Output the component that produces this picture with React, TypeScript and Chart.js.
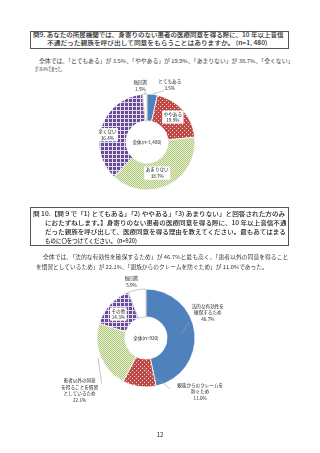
import React, { useEffect, useRef } from "react";
import { Chart, registerables } from "chart.js";
Chart.register(...registerables);

const q9Categories = ["とてもある", "ややある", "あまりない", "全くない", "無回答"];
const q9Values = [3.5, 19.9, 38.7, 36.4, 1.5];
const q9Center = "全体(n=1,480)";

const q10Categories = [
  "法的な有効性を\n確保するため",
  "親族からのクレームを\n防ぐため",
  "患者以外の同意\nを得ることを慣習\nとしているため",
  "その他",
  "無回答",
];
const q10Values = [46.7, 11.0, 22.1, 14.3, 5.9];
const q10Center = "全体(n=920)";

const box1Lines = [
  "問9. あなたの所属機関では、身寄りのない患者の医療同意を得る際に、10 年以上音信",
  "不通だった親族を呼び出して同意をもらうことはありますか。 (n=1, 480)",
];
const body1Lines = [
  "全体では、「とてもある」が 3.5%、「ややある」が 19.9%、「あまりない」が 38.7%、「全くない」",
  "が 36.4%であった。",
];
const box2Lines = [
  "問 10.【問９で「1) とてもある」「2) ややある」「3) あまりない」と回答された方のみ",
  "におたずねします。】身寄りのない患者の医療同意を得る際に、10 年以上音信不通",
  "だった親族を呼び出して、医療同意を得る理由を教えてください。最もあてはまる",
  "ものに〇をつけてください。 (n=920)",
];
const body2Lines = [
  "全体では、「法的な有効性を確保するため」が 46.7%と最も高く、「患者以外の同意を得ること",
  "を慣習としているため」が 22.1%、「親族からのクレームを防ぐため」が 11.0%であった。",
];
const pageNumber = "12";

const JP = '"Noto Sans CJK JP", "Noto Sans", sans-serif';

function makePattern(kind: string): CanvasPattern | string {
  const c = document.createElement("canvas");
  const s = kind === "green" ? 2 : 4;
  c.width = s;
  c.height = s;
  const g = c.getContext("2d")!;
  if (kind === "red") {
    g.fillStyle = "#BE4B48";
    g.fillRect(0, 0, s, s);
    g.fillStyle = "#F2D2D1";
    g.fillRect(0, 0, 1, 1);
    g.fillRect(2, 2, 1, 1);
  } else if (kind === "green") {
    g.fillStyle = "#E8F0D6";
    g.fillRect(0, 0, s, s);
    g.fillStyle = "#AFC97C";
    g.fillRect(0, 0, 1, 1);
    g.fillRect(1, 1, 1, 1);
  } else if (kind === "purple") {
    g.fillStyle = "#6A4B98";
    g.fillRect(0, 0, s, s);
    g.fillStyle = "#E4DCEE";
    g.fillRect(0, 0, s, 1);
    g.fillRect(0, 0, 1, s);
  }
  return g.createPattern(c, "repeat") || "#888";
}

type LabelLayout = {
  dx: number;
  dy: number;
  box?: boolean;
  leader?: { fx: number; fy: number; r: number };
};

function makeLabelPlugin(layout: LabelLayout[], center: string, fontSize: number, lineH: number) {
  return {
    id: "sliceLabels",
    afterDatasetsDraw(chart: any) {
      const ctx = chart.ctx as CanvasRenderingContext2D;
      const meta = chart.getDatasetMeta(0);
      const labels = chart.data.labels as string[];
      const values = chart.data.datasets[0].data as number[];
      ctx.save();
      ctx.font = `${fontSize}px ${JP}`;
      ctx.textAlign = "center";
      ctx.textBaseline = "middle";
      meta.data.forEach((arc: any, i: number) => {
        const L = layout[i];
        const p = arc.tooltipPosition(true);
        const cx = p.x + L.dx;
        const cy = p.y + L.dy;
        const lines = String(labels[i]).split("\n").concat([values[i].toFixed(1) + "%"]);
        const h = lines.length * lineH;
        if (L.leader) {
          const pr = arc.getProps(["x", "y", "startAngle", "endAngle", "innerRadius", "outerRadius"], true);
          const mid = (pr.startAngle + pr.endAngle) / 2;
          const r = pr.innerRadius + (pr.outerRadius - pr.innerRadius) * L.leader.r;
          ctx.strokeStyle = "#a0a0a0";
          ctx.lineWidth = 0.6;
          ctx.beginPath();
          ctx.moveTo(cx + L.leader.fx, cy + L.leader.fy);
          ctx.lineTo(pr.x + Math.cos(mid) * r, pr.y + Math.sin(mid) * r);
          ctx.stroke();
        }
        if (L.box) {
          const w = Math.max(...lines.map((s) => ctx.measureText(s).width)) + 3;
          ctx.fillStyle = "#ffffff";
          ctx.fillRect(cx - w / 2, cy - h / 2, w, h);
        }
        ctx.fillStyle = "#222";
        lines.forEach((s, k) => ctx.fillText(s, cx, cy - h / 2 + lineH * (k + 0.5)));
      });
      const a0 = meta.data[0];
      ctx.fillStyle = "#222";
      ctx.fillText(center, a0.x, a0.y);
      ctx.restore();
    },
  };
}

function Donut(props: {
  labels: string[];
  values: number[];
  center: string;
  fills: string[];
  borders: string[];
  layout: LabelLayout[];
  radius: number;
  cutout: string;
  left: number;
  top: number;
  width: number;
  height: number;
  cx: number;
  cy: number;
}) {
  const ref = useRef<HTMLCanvasElement>(null);
  useEffect(() => {
    const canvas = ref.current!;
    const bg = props.fills.map((k) => (k.startsWith("#") ? k : makePattern(k)));
    const half = props.radius + 2;
    const chart = new Chart(canvas, {
      type: "doughnut",
      data: {
        labels: props.labels,
        datasets: [
          {
            data: props.values,
            backgroundColor: bg as any,
            borderColor: props.borders,
            borderWidth: 0.8,
          },
        ],
      },
      options: {
        responsive: false,
        animation: false,
        radius: props.radius,
        cutout: props.cutout,
        layout: {
          padding: {
            left: props.cx - half,
            right: props.width - props.cx - half,
            top: props.cy - half,
            bottom: props.height - props.cy - half,
          },
        },
        plugins: { legend: { display: false }, tooltip: { enabled: false } },
      } as any,
      plugins: [makeLabelPlugin(props.layout, props.center, 4.6, 6.6)],
    });
    return () => chart.destroy();
  }, []);
  return (
    <canvas
      ref={ref}
      width={props.width}
      height={props.height}
      style={{ position: "absolute", left: props.left, top: props.top, width: props.width, height: props.height }}
    />
  );
}

function FitLine(props: { text: string; x: number; y: number; w: number; size: number; weight?: number; color?: string }) {
  const ref = useRef<HTMLDivElement>(null);
  useEffect(() => {
    const el = ref.current!;
    const natural = el.scrollWidth;
    if (natural > 0) el.style.transform = `scaleX(${props.w / natural})`;
  }, []);
  return (
    <div
      ref={ref}
      style={{
        position: "absolute",
        left: props.x,
        top: props.y - props.size * 0.7,
        whiteSpace: "nowrap",
        fontFamily: JP,
        fontSize: props.size,
        lineHeight: `${props.size * 1.4}px`,
        fontWeight: props.weight || 400,
        color: props.color || "#222",
        transformOrigin: "0 0",
      }}
    >
      {props.text}
    </div>
  );
}

const q9Layout: LabelLayout[] = [
  { dx: 19, dy: -23, leader: { fx: -6, fy: 6, r: 1.0 } },
  { dx: 0, dy: -2, box: true },
  { dx: -5, dy: 0, box: true },
  { dx: -7, dy: 4, box: true },
  { dx: -5, dy: -22, leader: { fx: 5, fy: 6, r: 1.0 } },
];
const q10Layout: LabelLayout[] = [
  { dx: 27, dy: -22, leader: { fx: -19, fy: 10, r: 0.5 } },
  { dx: 59, dy: 19, leader: { fx: -30, fy: -3, r: 0.3 } },
  { dx: -34, dy: 39, leader: { fx: 22, fy: -7, r: 1.1 } },
  { dx: -2, dy: 0, box: true },
  { dx: -8, dy: -22 },
];

export default function App() {
  return (
    <div style={{ position: "absolute", left: 0, top: 0, width: 320, height: 453, background: "#fff", overflow: "hidden" }}>
      <div style={{ position: "absolute", left: 30, top: 31, width: 259, height: 18, border: "0.8px solid #555", boxSizing: "border-box" }} />
      <FitLine text={box1Lines[0]} x={33} y={35.5} w={251} size={6} weight={500} />
      <FitLine text={box1Lines[1]} x={47} y={43.5} w={220} size={6} weight={500} />
      <FitLine text={body1Lines[0]} x={39} y={61} w={254} size={5.2} color="#333" />
      <FitLine text={body1Lines[1]} x={35} y={69} w={29} size={5.2} color="#333" />

      <Donut
        labels={q9Categories}
        values={q9Values}
        center={q9Center}
        fills={["#4F81BD", "red", "green", "purple", "#FFFFFF"]}
        borders={["#fff", "#fff", "#fff", "#fff", "#bdbdbd"]}
        layout={q9Layout}
        radius={48}
        cutout="44%"
        left={0}
        top={70}
        width={320}
        height={140}
        cx={147}
        cy={72}
      />

      <div style={{ position: "absolute", left: 30, top: 207, width: 259, height: 39, border: "0.8px solid #555", boxSizing: "border-box" }} />
      <FitLine text={box2Lines[0]} x={33} y={214} w={252} size={6} weight={500} />
      <FitLine text={box2Lines[1]} x={45} y={223} w={241} size={6} weight={500} />
      <FitLine text={box2Lines[2]} x={45} y={232} w={241} size={6} weight={500} />
      <FitLine text={box2Lines[3]} x={45} y={241} w={92} size={6} weight={500} />
      <FitLine text={body2Lines[0]} x={43} y={257} w={245} size={5.2} color="#333" />
      <FitLine text={body2Lines[1]} x={36} y={267} w={232} size={5.2} color="#333" />

      <Donut
        labels={q10Categories}
        values={q10Values}
        center={q10Center}
        fills={["#4F81BD", "red", "green", "purple", "#FFFFFF"]}
        borders={["#fff", "#fff", "#fff", "#fff", "#bdbdbd"]}
        layout={q10Layout}
        radius={49}
        cutout="43%"
        left={0}
        top={270}
        width={320}
        height={140}
        cx={146}
        cy={68}
      />

      <div style={{ position: "absolute", left: 0, width: 320, top: 430, textAlign: "center", fontFamily: JP, fontSize: 6, color: "#222" }}>
        {pageNumber}
      </div>
    </div>
  );
}
